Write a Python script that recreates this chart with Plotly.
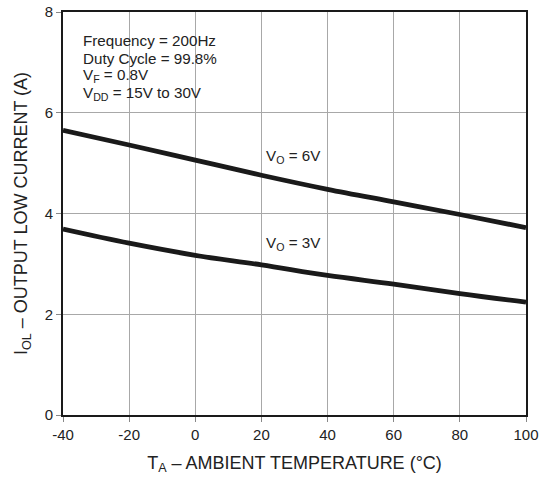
import plotly.graph_objects as go

temps = [-40, -20, 0, 20, 40, 60, 80, 100]
i_vo6 = [5.65, 5.36, 5.06, 4.76, 4.48, 4.23, 3.98, 3.72]
i_vo3 = [3.69, 3.41, 3.17, 2.98, 2.77, 2.60, 2.41, 2.24]
x_ticks = [-40, -20, 0, 20, 40, 60, 80, 100]
y_ticks = [0, 2, 4, 6, 8]
info_lines = ["Frequency = 200Hz", "Duty Cycle = 99.8%", "V<sub>F</sub> = 0.8V",
              "V<sub>DD</sub> = 15V to 30V"]

FONT = "Liberation Sans, Arial, sans-serif"

fig = go.Figure()
for ys in (i_vo6, i_vo3):
    fig.add_trace(go.Scatter(x=temps, y=ys, mode="lines", line=dict(color="#1a1a1a", width=4.8, shape="spline"),
                             showlegend=False, hoverinfo="skip"))

annotations = []
info_y = [7.44, 7.08, 6.73, 6.39]
for txt, yy in zip(info_lines, info_y):
    annotations.append(dict(x=-34.7, y=yy, xref="x", yref="y", text=txt, showarrow=False,
                            xanchor="left", yanchor="middle", font=dict(family=FONT, size=15.2, color="#222")))
annotations.append(dict(x=20.8, y=5.14, xref="x", yref="y", text="V<sub>O</sub> = 6V", showarrow=False,
                        xanchor="left", yanchor="middle", font=dict(family=FONT, size=15.2, color="#222")))
annotations.append(dict(x=20.8, y=3.40, xref="x", yref="y", text="V<sub>O</sub> = 3V", showarrow=False,
                        xanchor="left", yanchor="middle", font=dict(family=FONT, size=15.2, color="#222")))

fig.update_layout(
    width=541, height=481,
    margin=dict(l=63, r=15, t=12, b=66, autoexpand=False),
    paper_bgcolor="white", plot_bgcolor="white",
    font=dict(family=FONT, size=15, color="#222"),
    annotations=annotations,
    xaxis=dict(range=[-40, 100], tickvals=x_ticks, ticktext=[str(v) for v in x_ticks],
               showgrid=True, gridcolor="#a8a8a8", gridwidth=1, automargin=False,
               showline=True, linecolor="#1a1a1a", linewidth=2, mirror=True,
               ticks="outside", ticklen=5, tickcolor="#888", zeroline=False,
               tickfont=dict(size=15, color="#222"),
               title=dict(text="T<sub>A</sub> – AMBIENT TEMPERATURE (°C)", font=dict(size=18, color="#222"), standoff=14)),
    yaxis=dict(range=[0, 8], tickvals=y_ticks, ticktext=[str(v) for v in y_ticks],
               showgrid=True, gridcolor="#a8a8a8", gridwidth=1, automargin=False,
               showline=True, linecolor="#1a1a1a", linewidth=2, mirror=True,
               ticks="outside", ticklen=5, tickcolor="#888", zeroline=False,
               tickfont=dict(size=15, color="#222"),
               title=dict(text="I<sub>OL</sub> – OUTPUT LOW CURRENT (A)", font=dict(size=18, color="#222"), standoff=12)),
)

fig.write_html("out.html")
